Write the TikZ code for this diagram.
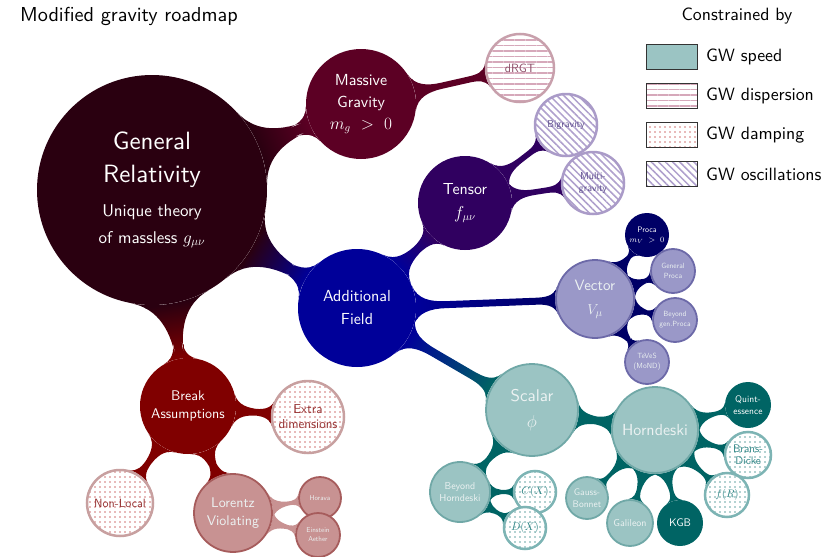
\documentclass[tikz,border=0pt]{standalone}
\usepackage{fontspec}
\setsansfont{lmsans10-regular.otf}
\usetikzlibrary{mindmap,patterns.meta,backgrounds}
\definecolor{grc}{RGB}{42,0,16}
\definecolor{mgc}{RGB}{92,0,36}
\definecolor{afc}{RGB}{0,0,153}
\definecolor{tnc}{RGB}{48,0,96}
\definecolor{vcc}{RGB}{0,0,102}
\definecolor{vcl}{RGB}{154,152,200}
\definecolor{vcb}{RGB}{108,105,168}
\definecolor{scc}{RGB}{0,100,100}
\definecolor{scl}{RGB}{155,196,195}
\definecolor{scb}{RGB}{112,168,167}
\definecolor{brc}{RGB}{128,0,0}
\definecolor{lvl}{RGB}{200,146,146}
\definecolor{lvb}{RGB}{166,92,92}
\definecolor{dispb}{RGB}{200,160,172}
\definecolor{dispp}{RGB}{214,168,186}
\definecolor{dispt}{RGB}{140,78,104}
\definecolor{oscb}{RGB}{170,155,200}
\definecolor{oscp}{RGB}{175,160,205}
\definecolor{osct}{RGB}{94,78,142}
\definecolor{dmrb}{RGB}{200,160,160}
\definecolor{dmrp}{RGB}{208,118,118}
\definecolor{dmrt}{RGB}{150,50,50}
\definecolor{dmtb}{RGB}{125,180,180}
\definecolor{dmtp}{RGB}{105,165,165}
\definecolor{dmtt}{RGB}{50,135,135}
\definecolor{ltxt}{RGB}{236,242,242}
\tikzset{
  bub/.style={circle, inner sep=0pt, align=center, font=\sffamily},
  full/.style={bub, fill=#1, text=white},
  light/.style 2 args={bub, fill=#1, draw=#2, line width=1.8pt, text=ltxt},
  dispn/.style={bub, preaction={fill=white}, pattern={Lines[angle=0,distance=5.5pt,line width=1.2pt]}, pattern color=dispp, draw=dispb, line width=2.5pt, text=dispt},
  oscn/.style={bub, preaction={fill=white}, pattern={Lines[angle=-45,distance=5pt,line width=1.5pt]}, pattern color=oscp, draw=oscb, line width=2.5pt, text=osct},
  dmpr/.style={bub, preaction={fill=white}, pattern={Dots[distance=5pt,radius=0.85pt]}, pattern color=dmrp, draw=dmrb, line width=2.5pt, text=dmrt},
  dmpt/.style={bub, preaction={fill=white}, pattern={Dots[distance=5pt,radius=0.85pt]}, pattern color=dmtp, draw=dmtb, line width=2.5pt, text=dmtt},
  legbox/.style={draw=black!80, line width=1pt, minimum width=51pt, minimum height=25pt, inner sep=0pt},
  legtxt/.style={anchor=west, font=\sffamily\fontsize{17.8}{20}\selectfont, inner sep=0pt},
}
\newcommand{\fsz}[2]{\fontsize{#1}{#2}\selectfont}
\begin{document}
\begin{tikzpicture}[x=1pt,y=-1pt]
\useasboundingbox (0,0) rectangle (831,557);
% title and legend
\node[anchor=west, font=\sffamily\fsz{20.2}{23}, inner sep=0pt] (title) at (20,16) {Modified gravity roadmap};
\node[font=\sffamily\fsz{17.8}{20}, inner sep=0pt] (ctitle) at (737,16) {Constrained by};
\node[legbox, fill=scl] (l1) at (672,57) {};
\node[legbox, fill=white, pattern={Lines[angle=0,distance=5.5pt,line width=1.2pt]}, pattern color=dispp] (l2) at (672,96) {};
\node[legbox, fill=white, pattern={Dots[distance=5pt,radius=0.85pt]}, pattern color=dmrp] (l3) at (672,135) {};
\node[legbox, fill=white, pattern={Lines[angle=-45,distance=5pt,line width=1.5pt]}, pattern color=oscp] (l4) at (672,174) {};
\node[legtxt] (t1) at (706,57) {GW speed};
\node[legtxt] (t2) at (706,96) {GW dispersion};
\node[legtxt] (t3) at (706,135) {GW damping};
\node[legtxt] (t4) at (706,174) {GW oscillations};
% main concepts
\node[full=grc, minimum size=230pt, font=\sffamily\fsz{25}{33}] (GR) at (152,190) {General\\Relativity\\[1pt]{\fsz{17}{27}Unique theory}\\[-6pt]{\fsz{17}{27}of massless $g_{\mu\nu}$}};
\node[full=mgc, minimum size=110pt, font=\sffamily\fsz{16}{22}] (MG) at (361,104) {Massive\\Gravity\\$m_g\ >\ 0$};
\node[dispn, minimum size=68pt, font=\sffamily\fsz{12}{14}] (dRGT) at (520,68) {dRGT};
\node[full=tnc, minimum size=94pt, font=\sffamily\fsz{16}{24}] (T) at (465,203) {Tensor\\$f_{\mu\nu}$};
\node[oscn, minimum size=62pt, font=\sffamily\fsz{10}{12}] (Bi) at (566,125) {Bigravity};
\node[oscn, minimum size=62pt, font=\sffamily\fsz{10}{12}] (Mu) at (593,183) {Multi-\\gravity};
\node[full=afc, minimum size=118pt, font=\sffamily\fsz{16}{23}] (AF) at (357,308) {Additional\\Field};
\node[light={vcl}{vcb}, minimum size=78pt, font=\sffamily\fsz{15}{24}] (V) at (595,299) {Vector\\$V_\mu$};
\node[full=vcc, minimum size=44pt, font=\sffamily\fsz{8}{10}] (Pr) at (647,235) {Proca\\$m_V\ >\ 0$};
\node[light={vcl}{vcb}, minimum size=44pt, font=\sffamily\fsz{7.5}{10}] (GP) at (673,271) {General\\Proca};
\node[light={vcl}{vcb}, minimum size=44pt, font=\sffamily\fsz{7.5}{10}] (BP) at (675,320) {Beyond\\gen.Proca};
\node[light={vcl}{vcb}, minimum size=44pt, font=\sffamily\fsz{7.5}{10}] (TV) at (647,362) {TeVeS\\(MoND)};
\node[light={scl}{scb}, minimum size=92pt, font=\sffamily\fsz{17}{26}] (S) at (532,410) {Scalar\\$\phi$};
\node[light={scl}{scb}, minimum size=86pt, font=\sffamily\fsz{16}{20}] (H) at (655,430) {Horndeski};
\node[full=scc, minimum size=46pt, font=\sffamily\fsz{9.5}{12}] (Q) at (748,405) {Quint-\\essence};
\node[dmpt, minimum size=46pt, font=\sffamily\fsz{11}{12}] (BD) at (748,455) {Brans-\\Dicke};
\node[dmpt, minimum size=44pt, font=\sffamily\fsz{11}{12}] (fR) at (727,495) {$f(R)$};
\node[full=scc, minimum size=46pt, font=\sffamily\fsz{11}{12}] (KGB) at (680,523) {KGB};
\node[light={scl}{scb}, minimum size=46pt, font=\sffamily\fsz{10}{12}] (Ga) at (630,523) {Galileon};
\node[light={scl}{scb}, minimum size=42pt, font=\sffamily\fsz{9.5}{12}] (GB) at (587,498) {Gauss-\\Bonnet};
\node[light={scl}{scb}, minimum size=60pt, font=\sffamily\fsz{10}{12}] (BH) at (460,492) {Beyond\\Horndeski};
\node[dmpt, minimum size=42pt, font=\sffamily\fsz{11}{12}] (CX) at (535,492) {$C(X)$};
\node[dmpt, minimum size=42pt, font=\sffamily\fsz{11}{12}] (DX) at (525,528) {$D(X)$};
\node[full=brc, minimum size=96pt, font=\sffamily\fsz{14}{18}] (B) at (188,406) {Break\\Assumptions};
\node[dmpr, minimum size=72pt, font=\sffamily\fsz{13}{15}] (ED) at (308,417) {Extra\\dimensions};
\node[dmpr, minimum size=66pt, font=\sffamily\fsz{12}{14}] (NL) at (120,503) {Non-Local};
\node[light={lvl}{lvb}, minimum size=78pt, font=\sffamily\fsz{14}{18}] (LV) at (233,513) {Lorentz\\Violating};
\node[light={lvl}{lvb}, minimum size=42pt, font=\sffamily\fsz{7}{9}] (Ho) at (320,498) {Horava};
\node[light={lvl}{lvb}, minimum size=44pt, font=\sffamily\fsz{7}{9}] (EA) at (318,535) {Einstein\\Aether};
% connection bars
\begin{pgfonlayer}{background}
\begin{scope}[mindmap]
\path[line width=28pt] (GR) to[circle connection bar switch color=from (grc) to (mgc)] (MG);
\path[line width=28pt] (GR) to[circle connection bar switch color=from (grc) to (afc)] (AF);
\path[line width=18pt] (GR) to[circle connection bar switch color=from (grc) to (brc)] (B);
\path[line width=9pt] (MG) to[circle connection bar switch color=from (mgc) to (mgc)] (dRGT);
\path[line width=15pt] (AF) to[circle connection bar switch color=from (afc) to (tnc)] (T);
\path[line width=8.5pt] (T) to[circle connection bar switch color=from (tnc) to (tnc)] (Bi);
\path[line width=8.5pt] (T) to[circle connection bar switch color=from (tnc) to (tnc)] (Mu);
\path[line width=10pt] (AF) to[circle connection bar switch color=from (afc) to (vcc)] (V);
\path[line width=7.5pt] (V) to[circle connection bar switch color=from (vcc) to (vcc)] (Pr);
\path[line width=7.5pt] (V) to[circle connection bar switch color=from (vcc) to (vcc)] (GP);
\path[line width=7.5pt] (V) to[circle connection bar switch color=from (vcc) to (vcc)] (BP);
\path[line width=7.5pt] (V) to[circle connection bar switch color=from (vcc) to (vcc)] (TV);
\path[line width=12pt] (AF) to[circle connection bar switch color=from (afc) to (scc)] (S);
\path[line width=14pt] (S) to[circle connection bar switch color=from (scc) to (scc)] (H);
\path[line width=11pt] (S) to[circle connection bar switch color=from (scc) to (scc)] (BH);
\path[line width=7.5pt] (BH) to[circle connection bar switch color=from (scc) to (scc)] (CX);
\path[line width=7.5pt] (BH) to[circle connection bar switch color=from (scc) to (scc)] (DX);
\path[line width=9pt] (H) to[circle connection bar switch color=from (scc) to (scc)] (Q);
\path[line width=9pt] (H) to[circle connection bar switch color=from (scc) to (scc)] (BD);
\path[line width=9pt] (H) to[circle connection bar switch color=from (scc) to (scc)] (fR);
\path[line width=9pt] (H) to[circle connection bar switch color=from (scc) to (scc)] (KGB);
\path[line width=9pt] (H) to[circle connection bar switch color=from (scc) to (scc)] (Ga);
\path[line width=9pt] (H) to[circle connection bar switch color=from (scc) to (scc)] (GB);
\path[line width=12pt] (B) to[circle connection bar switch color=from (brc) to (brc)] (ED);
\path[line width=10pt] (B) to[circle connection bar switch color=from (brc) to (brc)] (NL);
\path[line width=12pt] (B) to[circle connection bar switch color=from (brc) to (brc)] (LV);
\path[line width=7pt] (LV) to[circle connection bar switch color=from (lvl) to (lvl)] (Ho);
\path[line width=7pt] (LV) to[circle connection bar switch color=from (lvl) to (lvl)] (EA);
\end{scope}
\end{pgfonlayer}
\end{tikzpicture}
\end{document}
